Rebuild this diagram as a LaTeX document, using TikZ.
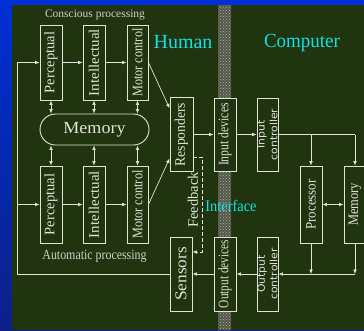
\documentclass[tikz,border=0pt]{standalone}
\usepackage{fontspec}
\setmainfont{Liberation Serif}
\newfontfamily\ctlfont{DejaVu Sans}
\usetikzlibrary{arrows.meta,patterns,shapes.misc,calc}

\definecolor{panel}{RGB}{32,52,16}
\definecolor{ink}{RGB}{226,226,216}
\definecolor{cyantext}{RGB}{20,225,225}
\definecolor{bluetop}{RGB}{0,48,215}
\definecolor{bluebot}{RGB}{12,32,135}
\definecolor{stripbase}{RGB}{84,88,74}
\definecolor{stripdots}{RGB}{170,172,160}

% vertical label, stretched or squeezed along its reading direction
\newcommand{\vtext}[2]{\rotatebox{90}{\scalebox{#1}[1]{#2}}}

\begin{document}
\begin{tikzpicture}[x=1pt,y=-1pt,
  box/.style={draw=ink, fill=panel, line width=0.9pt, inner sep=0pt,
    text=ink, font=\fontsize{14.5}{14.5}\selectfont},
  ctl/.style={box, font=\ctlfont\fontsize{10}{10}\selectfont},
  conn/.style={draw=ink, line width=0.7pt},
  tip/.style={-{Latex[length=4.5pt,width=3.8pt]}},
  dtip/.style={{Latex[length=4.5pt,width=3.8pt]}-{Latex[length=4.5pt,width=3.8pt]}},
  fbline/.style={draw=ink, line width=0.7pt, dash pattern=on 4pt off 2pt},
  title/.style={text=cyantext, inner sep=0pt}
]
\useasboundingbox (0,0) rectangle (364,330);

% backdrop and panel
\shade[top color=bluetop, bottom color=bluebot] (0,0) rectangle (364,330);
\fill[panel] (12,5) rectangle (364,330);

% interface band
\fill[stripbase] (218,5) rectangle (231,330);
\fill[pattern=crosshatch dots, pattern color=stripdots] (218,5) rectangle (231,330);

% headings
\node[text=ink!92!black, inner sep=0pt, font=\fontsize{11.5}{12}\selectfont] (tcons) at (95,15) {Conscious processing};
\node[text=ink!92!black, inner sep=0pt, font=\fontsize{14}{14}\selectfont] (tauto) at (94.5,256) {\scalebox{0.85}[1]{Automatic processing}};
\node[title, font=\fontsize{20}{20}\selectfont] (thuman) at (183,42) {Human};
\node[title, font=\fontsize{20}{20}\selectfont] (tcomp) at (302,43) {\scalebox{0.95}[1]{Computer}};
\node[title, font=\fontsize{16}{16}\selectfont] (tint) at (231,206) {\scalebox{0.9}[1]{Interface}};

% human: conscious row
\node[box, minimum width=22pt, minimum height=75pt] (perc1) at (51,62.5) {\vtext{1}{Perceptual}};
\node[box, minimum width=22pt, minimum height=75pt] (int1) at (94,62.5) {\vtext{1.03}{Intellectual}};
\node[box, minimum width=21pt, minimum height=75pt] (mot1) at (137.5,62.5) {\vtext{0.84}{Motor control}};

% memory
\node[draw=ink, fill=panel, line width=0.9pt, rounded rectangle, minimum width=109pt,
  minimum height=31pt, inner sep=0pt, text=ink, font=\fontsize{17}{17}\selectfont]
  (mem) at (94.5,129.5) {\scalebox{1.06}[1]{Memory}};

% human: automatic row
\node[box, minimum width=22pt, minimum height=77pt] (perc2) at (51,204.5) {\vtext{1}{Perceptual}};
\node[box, minimum width=22pt, minimum height=77pt] (int2) at (94,204.5) {\vtext{1.03}{Intellectual}};
\node[box, minimum width=21pt, minimum height=77pt] (mot2) at (137.5,204.5) {\vtext{0.84}{Motor control}};

% responders and sensors
\node[box, minimum width=23pt, minimum height=74pt] (resp) at (181.5,134.5) {\vtext{0.94}{Responders}};
\node[box, minimum width=22pt, minimum height=74pt, font=\fontsize{16.5}{16.5}\selectfont] (sens) at (181,274) {\vtext{1.05}{Sensors}};

% interface devices
\node[box, minimum width=22pt, minimum height=73pt] (indev) at (225,134.5) {\vtext{0.81}{Input devices}};
\node[box, minimum width=22pt, minimum height=74pt] (outdev) at (225,274) {\vtext{0.78}{Output devices}};

% computer side
\node[ctl, minimum width=21pt, minimum height=73pt] (inctl) at (267.5,134.5)
  {\rotatebox{90}{\scalebox{1.08}[1]{\shortstack{Input\\controller}}}};
\node[ctl, minimum width=21pt, minimum height=74pt] (outctl) at (267.5,274)
  {\rotatebox{90}{\scalebox{1.08}[1]{\shortstack{Output\\controller}}}};
\node[box, minimum width=22pt, minimum height=77pt] (proc) at (311,204.5) {\vtext{0.89}{Processor}};
\node[box, minimum width=22pt, minimum height=77pt] (mem2) at (355,204.5) {\vtext{0.86}{Memory}};

% feedback label
\node[rotate=90, text=ink, inner sep=0pt, font=\fontsize{14.5}{14.5}\selectfont] (fblab) at (193,200) {Feedback};

% sensory loop back to perception
\coordinate (loopB) at (17,274);
\draw[conn, tip] (sens.west) -- (loopB) |- (perc1.west);
\draw[conn, tip] (loopB |- perc2.west) -- (perc2.west);

% processing chains
\draw[conn, tip] (perc1) -- (int1);
\draw[conn, tip] (int1) -- (mot1);
\draw[conn, tip] (perc2) -- (int2);
\draw[conn, tip] (int2) -- (mot2);

% memory links
\foreach \b in {perc1,int1,mot1}
  \draw[conn, dtip] (\b.south) -- (\b.south |- mem.north);
\foreach \b in {perc2,int2,mot2}
  \draw[conn, dtip] (mem.south -| \b.north) -- (\b.north);

% motor output to responders
\draw[conn, tip] (mot1.east) -- ($(resp.north west)!0.15!(resp.south west)$);
\draw[conn, tip] (mot2.east) -- ($(resp.north west)!0.82!(resp.south west)$);

% input path
\draw[conn, tip] (resp) -- (indev);
\draw[conn, tip] (indev) -- (inctl);
\draw[conn] (inctl.east) -- (mem2.north |- inctl.east);
\draw[conn, tip] (proc.north |- inctl.east) -- (proc.north);
\draw[conn, tip] (mem2.north |- inctl.east) -- (mem2.north);
\draw[conn, dtip] (proc) -- (mem2);

% output path
\draw[conn, tip] (proc.south) -- (proc.south |- outctl.east);
\draw[conn, tip] (mem2.south) -- (mem2.south |- outctl.east);
\draw[conn, tip] (mem2.south |- outctl.east) -- (outctl.east);
\draw[conn, tip] (outctl) -- (outdev);
\draw[conn, tip] (outdev) -- (sens);

% feedback
\coordinate (fbTop) at (202,157);
\coordinate (fbBot) at (202,252);
\draw[fbline, tip] (resp.east |- fbTop) -- (fbTop) -- (fbBot) -- (sens.east |- fbBot);
\end{tikzpicture}
\end{document}
